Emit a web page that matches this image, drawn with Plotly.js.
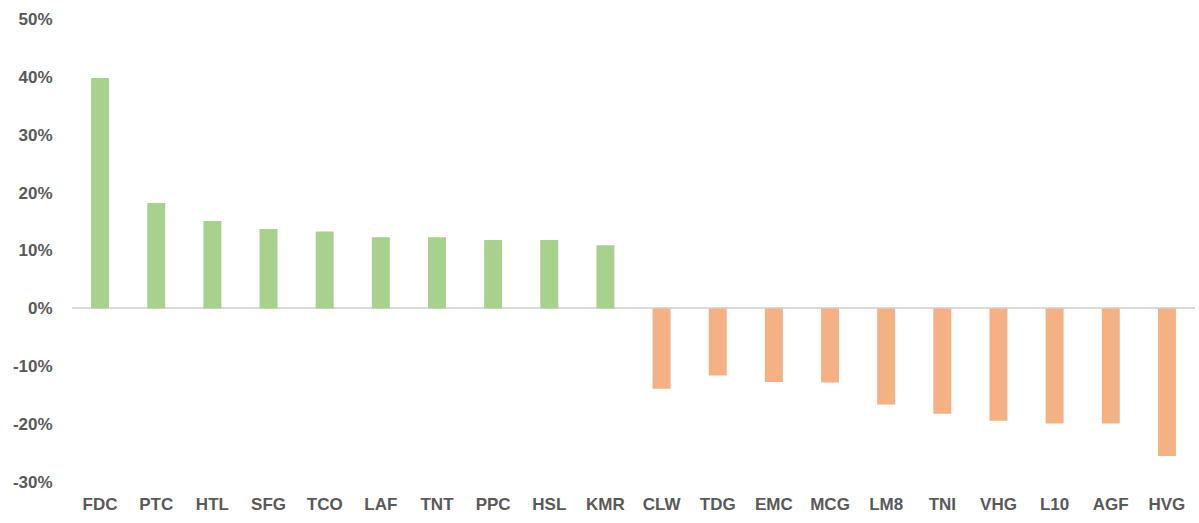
<!DOCTYPE html>
<html>
<head>
<meta charset="utf-8">
<script src="https://cdn.plot.ly/plotly-3.0.1.min.js"></script>
<style>html,body{margin:0;padding:0;background:#fff;}#chart{width:1199px;height:523px;}</style>
</head>
<body>
<div id="chart"></div>
<script>
const tickers = ["FDC","PTC","HTL","SFG","TCO","LAF","TNT","PPC","HSL","KMR","CLW","TDG","EMC","MCG","LM8","TNI","VHG","L10","AGF","HVG"];
const changes = [39.8, 18.2, 15.1, 13.7, 13.3, 12.3, 12.3, 11.8, 11.8, 10.9, -13.9, -11.6, -12.7, -12.8, -16.6, -18.2, -19.4, -19.9, -19.9, -25.5];
const yTicks = [-30, -20, -10, 0, 10, 20, 30, 40, 50];

const upColor = "#a9d18e";
const downColor = "#f4b183";

const trace = {
  type: "bar",
  x: tickers,
  y: changes,
  marker: { color: changes.map(v => v >= 0 ? upColor : downColor) },
  width: 0.32,
  hoverinfo: "x+y"
};

const tickFont = { family: "Liberation Sans, Arial, sans-serif", size: 17, color: "#595959", weight: "bold" };

const layout = {
  width: 1199,
  height: 523,
  margin: { l: 72, r: 4, t: 19, b: 41 },
  paper_bgcolor: "#ffffff",
  plot_bgcolor: "#ffffff",
  font: tickFont,
  showlegend: false,
  bargap: 0.68,
  xaxis: {
    type: "category",
    showgrid: false,
    showline: false,
    zeroline: false,
    ticks: "outside",
    ticklen: 7,
    tickcolor: "rgba(0,0,0,0)",
    tickfont: tickFont,
    fixedrange: true
  },
  yaxis: {
    range: [-30, 50],
    tickvals: yTicks,
    ticktext: yTicks.map(v => v + "%"),
    showgrid: false,
    showline: false,
    zeroline: true,
    zerolinecolor: "#d9d9d9",
    zerolinewidth: 2,
    ticks: "outside",
    ticklen: 15,
    tickcolor: "rgba(0,0,0,0)",
    tickfont: tickFont,
    fixedrange: true
  }
};

Plotly.newPlot("chart", [trace], layout, { displayModeBar: false, staticPlot: true });
</script>
</body>
</html>
